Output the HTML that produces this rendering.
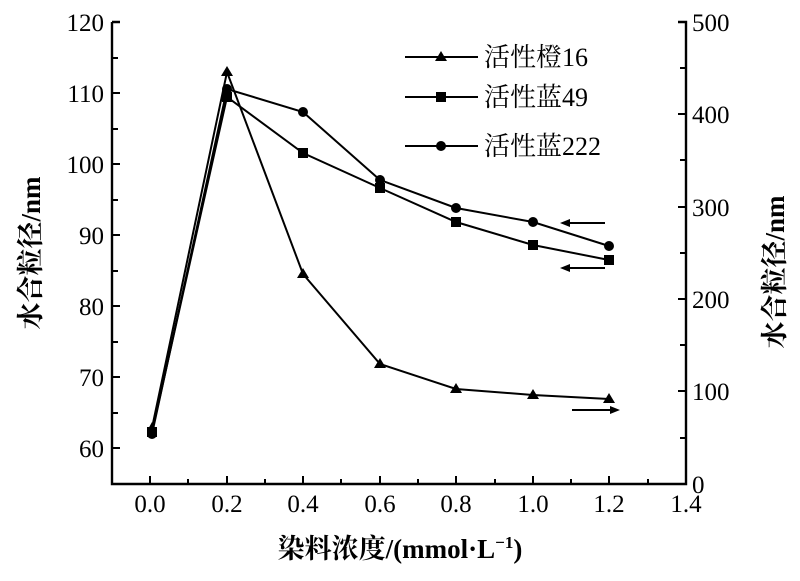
<!DOCTYPE html>
<html><head><meta charset="utf-8"><style>
body{margin:0;background:#fff}
svg text{font-family:"Liberation Serif","Noto Serif CJK SC",serif;fill:#000}
</style></head><body>
<svg width="800" height="576" viewBox="0 0 800 576" xmlns="http://www.w3.org/2000/svg">
<g stroke="#000" stroke-width="2.4" fill="none">
<path d="M112 22 H120 M112 22 V484 H686 V22 H678"/>
</g>
<g stroke="#000" stroke-width="2">
<path d="M112 58H118 M112 93H120 M112 129H118 M112 164H120 M112 200H118 M112 235H120 M112 271H118 M112 306H120 M112 342H118 M112 377H120 M112 413H118 M112 448H120"/>
<path d="M686 68H680 M686 114H678 M686 160H680 M686 207H678 M686 253H680 M686 299H678 M686 345H680 M686 391H678 M686 438H680"/>
<path d="M150 484V476 M188 484V479 M227 484V476 M265 484V479 M303 484V476 M341 484V479 M380 484V476 M418 484V479 M456 484V476 M495 484V479 M533 484V476 M571 484V479 M609 484V476 M648 484V479"/>
</g>
<g font-size="25" text-anchor="end">
<text x="104" y="31">120</text><text x="104" y="102">110</text><text x="104" y="173">100</text><text x="104" y="244">90</text><text x="104" y="315">80</text><text x="104" y="386">70</text><text x="104" y="457">60</text>
</g>
<g font-size="25" text-anchor="start">
<text x="692" y="31">500</text><text x="692" y="123">400</text><text x="692" y="216">300</text><text x="692" y="308">200</text><text x="692" y="400">100</text><text x="692" y="493">0</text>
</g>
<g font-size="25" text-anchor="middle">
<text x="150" y="512">0.0</text><text x="227" y="512">0.2</text><text x="303" y="512">0.4</text><text x="380" y="512">0.6</text><text x="456" y="512">0.8</text><text x="533" y="512">1.0</text><text x="609" y="512">1.2</text><text x="686" y="512">1.4</text>
</g>
<g stroke="#000" stroke-width="2" fill="none">
<polyline points="152,428 227,72 303,274 380,364 456,389 533,395 609,399"/>
<polyline points="152,432 227,97 303,153 380,188 456,222 533,245 609,260"/>
<polyline points="152,434 227,89 303,112 380,180 456,208 533,222 609,246"/>
</g>
<g fill="#000">
<path d="M152 422l5 9h-10z M227 66l6 10h-12z M303 268l6 10h-12z M380 358l6 10h-12z M456 383l6 10h-12z M533 389l6 10h-12z M609 393l6 10h-12z"/>
<rect x="147" y="427" width="10" height="10"/><rect x="222" y="92" width="10" height="10"/><rect x="298" y="148" width="10" height="10"/><rect x="375" y="183" width="10" height="10"/><rect x="451" y="217" width="10" height="10"/><rect x="528" y="240" width="10" height="10"/><rect x="604" y="255" width="10" height="10"/>
<circle cx="152" cy="434" r="5"/><circle cx="227" cy="89" r="5"/><circle cx="303" cy="112" r="5"/><circle cx="380" cy="180" r="5"/><circle cx="456" cy="208" r="5"/><circle cx="533" cy="222" r="5"/><circle cx="609" cy="246" r="5"/>
</g>
<g stroke="#000" stroke-width="2"><path d="M566 223H605 M566 268H605 M572 410H612"/></g>
<g fill="#000"><path d="M560 223l10-4v8z M560 268l10-4v8z M620 410l-10-4v8z"/></g>
<g stroke="#000" stroke-width="2"><path d="M405 57H478 M405 97H478 M405 146H478"/></g>
<g fill="#000"><path d="M441 51l6 10h-12z"/><rect x="436" y="92" width="10" height="10"/><circle cx="441" cy="146" r="5"/></g>
<g font-size="26"><text x="484" y="66">活性橙16</text><text x="484" y="106">活性蓝49</text><text x="484" y="155">活性蓝222</text></g>
<text font-size="27" font-weight="bold" text-anchor="middle" transform="translate(40,253) rotate(-90)">水合粒径/nm</text>
<text font-size="27" font-weight="bold" text-anchor="middle" transform="translate(784,272) rotate(-90)">水合粒径/nm</text>
<text font-size="27" font-weight="bold" x="400" y="558" text-anchor="middle">染料浓度/(mmol·L<tspan font-size="17" dy="-10">−1</tspan><tspan dy="10">)</tspan></text>
</svg>
</body></html>
